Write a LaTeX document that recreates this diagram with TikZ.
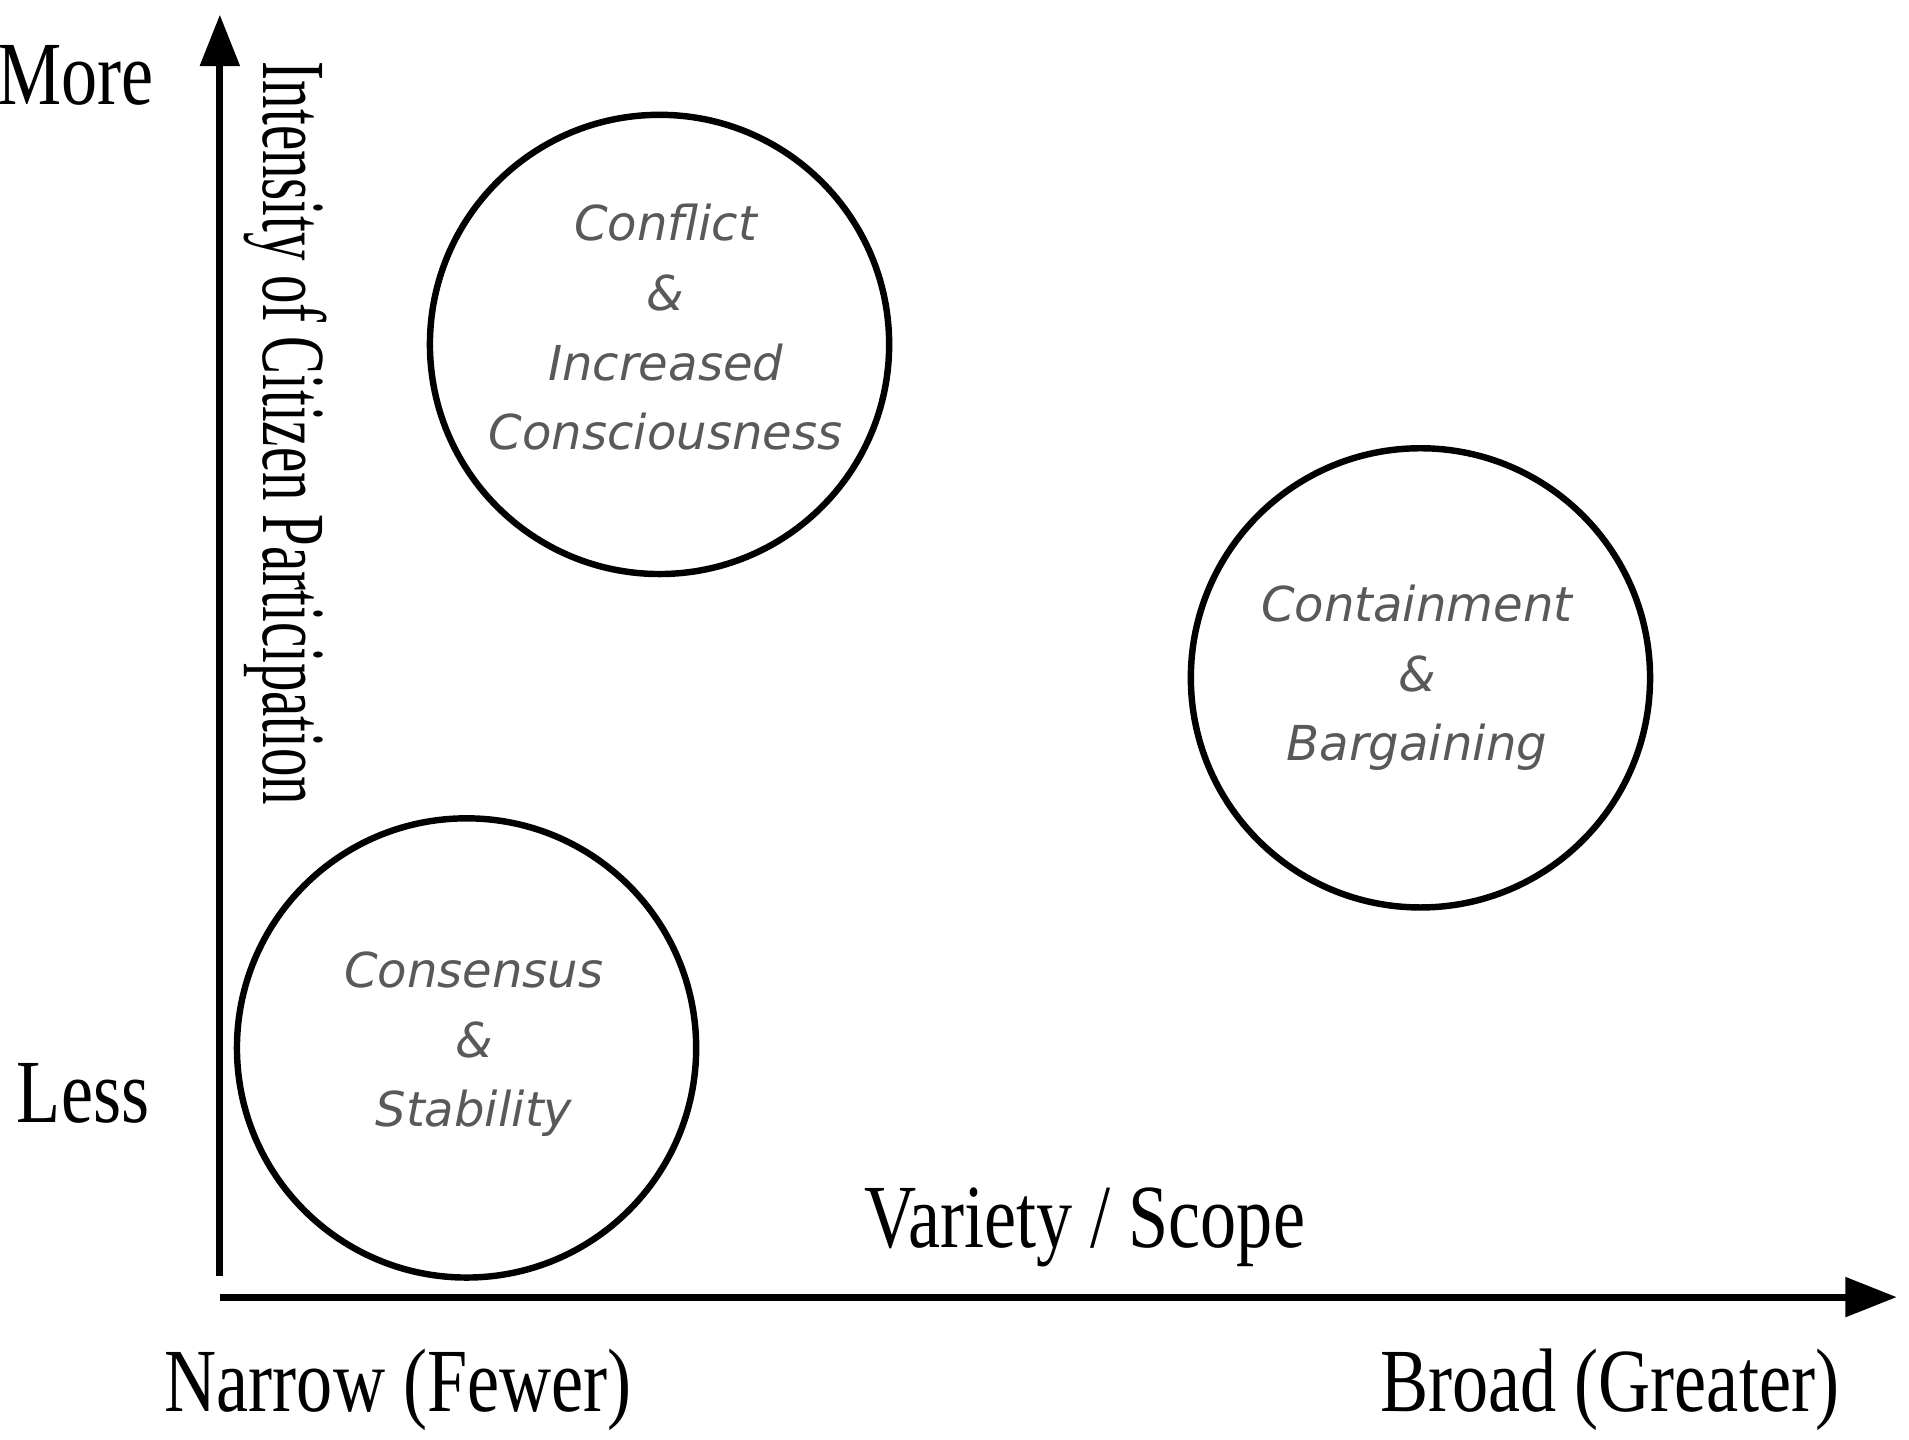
\documentclass[tikz,border=0pt]{standalone}
\usepackage{fontspec}
\setmainfont{Liberation Serif}
\newfontfamily\circfont{DejaVu Sans}
\usetikzlibrary{arrows.meta}
\newcommand{\cond}[2][0.8]{\scalebox{#1}[1]{#2}}
\begin{document}
\begin{tikzpicture}[x=0.01cm,y=-0.01cm,
  axis/.style={line width=1.6pt,-{Triangle[length=12pt,width=9pt]}},
  ctext/.style={font=\circfont\itshape\fontsize{11.2}{16.2}\selectfont,text=black!65,align=center},
  lab/.style={font=\fontsize{21}{24}\selectfont}]
\useasboundingbox (0,0) rectangle (1563,1179);
\coordinate (o) at (180,1062);
\coordinate (ytop) at (180,12);
\coordinate (xend) at (1553,1062);
\draw[axis] (180,1045) -- (ytop);
\draw[axis] (o) -- (xend);
\draw[line width=1.5pt] (540,282) circle (188) coordinate (c1);
\draw[line width=1.5pt] (1163,555) circle (188) coordinate (c2);
\draw[line width=1.5pt] (382,858) circle (188) coordinate (c3);
\node[ctext] (t1) at (545,268) {Conflict\\\&\\Increased\\Consciousness};
\node[ctext] (t2) at (1160,555) {Containment\\\&\\Bargaining};
\node[ctext] (t3) at (388,855) {Consensus\\\&\\Stability};
\node[lab] (more) at (62,62) {\cond{More}};
\node[lab] (less) at (68,895) {\cond{Less}};
\node[lab,rotate=-90] (yl) at (234,355) {\cond[0.63]{Intensity of Citizen Participation}};
\node[lab] (xl) at (888,1005) {\cond{Variety / Scope}};
\node[lab] (nar) at (326,1138) {\cond{Narrow (Fewer)}};
\node[lab] (bro) at (1318,1138) {\cond{Broad (Greater)}};
\end{tikzpicture}
\end{document}
